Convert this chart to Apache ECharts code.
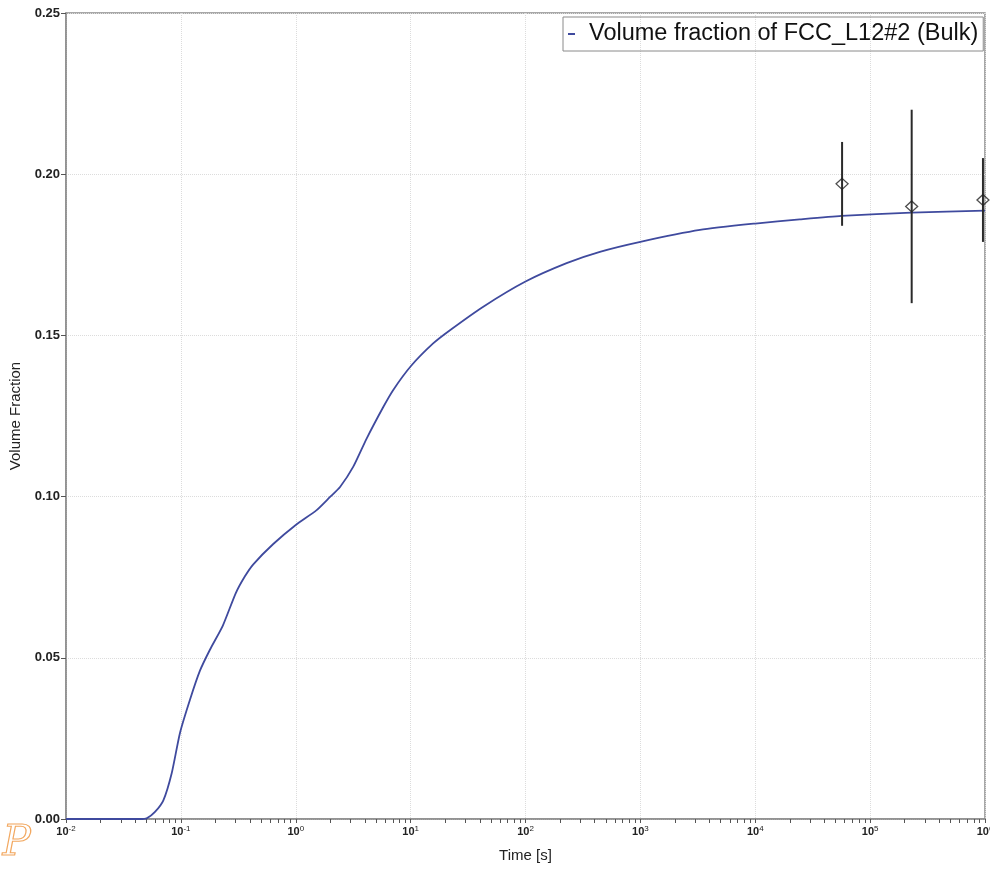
<!DOCTYPE html>
<html>
<head>
<meta charset="utf-8">
<title>Volume fraction of FCC_L12#2</title>
<script src="https://cdn.jsdelivr.net/npm/echarts@6/dist/echarts.min.js"></script>
<style>
  html, body { margin: 0; padding: 0; background: #fff; }
  #chart { width: 990px; height: 870px; }
</style>
</head>
<body>
<div id="chart"></div>
<script>
// Simulated precipitate volume fraction vs time (log time axis)
const timeSec = [
  0.01, 0.044, 0.0504, 0.0595, 0.0704, 0.0832, 0.0982, 0.120, 0.1466, 0.179,
  0.232, 0.300, 0.360, 0.427, 0.637, 1.0, 1.52, 1.99, 2.43, 3.16,
  4.14, 5.78, 7.06, 10.07, 15.7, 22.0, 42.9, 100, 228, 444,
  1000, 3300, 10000, 24400, 56400, 229000, 1000000
];
const volFraction = [
  0, 0, 0.0002, 0.0022, 0.0058, 0.0142, 0.0267, 0.0370, 0.0460, 0.0525,
  0.0600, 0.0700, 0.0752, 0.0790, 0.0853, 0.0912, 0.0958, 0.0999, 0.1030, 0.1092,
  0.1180, 0.1278, 0.1331, 0.1405, 0.1475, 0.1516, 0.1589, 0.1667, 0.1724, 0.1759,
  0.1790, 0.1827, 0.1847, 0.1860, 0.1871, 0.1881, 0.1887
];

// Experimental measurements with error bars
const expTime = [57000, 230000, 960000];
const expValue = [0.197, 0.190, 0.192];
const expLow = [0.184, 0.160, 0.179];
const expHigh = [0.210, 0.220, 0.205];

// Axis tick settings
const decadeExponents = [-2, -1, 0, 1, 2, 3, 4, 5];
const minorMultipliers = [2, 3, 4, 5, 6, 7, 8, 9];

const seriesName = 'Volume fraction of FCC_L12#2 (Bulk)';

const curveData = timeSec.map((t, i) => [t, volFraction[i]]);
const expPoints = expTime.map((t, i) => [t, expValue[i]]);
const errData = expTime.map((t, i) => [t, expLow[i], expHigh[i]]);
const minorTickPos = [];
decadeExponents.forEach(n => minorMultipliers.forEach(k => minorTickPos.push(n + Math.log10(k))));

const axisGray = '#8c8c8c';
const gridGray = '#dcdcdc';
const fontFam = 'Liberation Sans, Arial, sans-serif';

const chart = echarts.init(document.getElementById('chart'), null, { renderer: 'canvas' });

chart.setOption({
  animation: false,
  backgroundColor: '#fff',
  textStyle: { fontFamily: fontFam },
  grid: {
    left: 66, right: 5, top: 13, bottom: 51,
    outerBoundsMode: 'none',
    containLabel: false,
    show: true, borderColor: axisGray, borderWidth: 1.5, backgroundColor: 'transparent'
  },
  legend: {
    data: [seriesName],
    left: 563, top: 17,
    padding: [5, 5, 5, 5],
    borderColor: '#8a8a8a', borderWidth: 1,
    itemWidth: 7, itemHeight: 2,
    icon: 'rect',
    textStyle: { fontSize: 23.5, color: '#111', fontFamily: fontFam, padding: [0, 0, 0, 9] }
  },
  xAxis: [{
    type: 'log',
    logBase: 10,
    min: 0.01, max: 1000000,
    splitNumber: 8,
    name: 'Time [s]',
    nameLocation: 'middle',
    nameGap: 29,
    nameTextStyle: { fontSize: 15, color: '#222' },
    axisLine: { onZero: false, lineStyle: { color: axisGray, width: 1.5 } },
    axisTick: { show: true, length: 4, lineStyle: { color: '#555' } },
    axisLabel: {
      margin: 6,
      color: '#222',
      formatter: v => '{b|10}{s|' + Math.round(Math.log10(v)) + '}',
      rich: {
        b: { fontSize: 11, fontWeight: 'bold', color: '#222', fontFamily: fontFam },
        s: { fontSize: 8, color: '#222', verticalAlign: 'top', fontFamily: fontFam, padding: [0, 0, 5, 0] }
      }
    },
    splitLine: { show: true, lineStyle: { color: gridGray, type: 'dotted', width: 1 } }
  }, {
    // minor ticks at 2..9 within each decade
    type: 'value',
    min: -2, max: 6,
    position: 'bottom',
    axisLine: { show: false, onZero: false },
    axisLabel: { show: false },
    splitLine: { show: false },
    axisTick: { show: true, length: 4, customValues: minorTickPos, lineStyle: { color: '#555' } }
  }],
  yAxis: {
    type: 'value',
    min: 0, max: 0.25, interval: 0.05,
    name: 'Volume Fraction',
    nameLocation: 'middle',
    nameGap: 38,
    nameTextStyle: { fontSize: 15, color: '#222' },
    axisLine: { show: true, onZero: false, lineStyle: { color: axisGray, width: 1.5 } },
    axisTick: { show: true, length: 5, lineStyle: { color: '#555' } },
    axisLabel: {
      margin: 6, fontSize: 13, fontWeight: 'bold', color: '#222',
      formatter: v => v.toFixed(2)
    },
    splitLine: { show: true, lineStyle: { color: gridGray, type: 'dotted', width: 1 } }
  },
  series: [{
    name: seriesName,
    type: 'line',
    data: curveData,
    smooth: 0.2,
    showSymbol: false,
    lineStyle: { color: '#3f4a9e', width: 1.8 },
    itemStyle: { color: '#3f4a9e' },
    z: 3
  }, {
    name: 'errors',
    type: 'custom',
    data: errData,
    clip: true,
    renderItem: (params, api) => {
      const lo = api.coord([api.value(0), api.value(1)]);
      const hi = api.coord([api.value(0), api.value(2)]);
      return {
        type: 'line',
        shape: { x1: lo[0], y1: lo[1], x2: hi[0], y2: hi[1] },
        style: { stroke: '#2a2a2a', lineWidth: 2 }
      };
    },
    encode: { x: 0, y: [1, 2] },
    z: 4
  }, {
    name: 'measured',
    type: 'scatter',
    data: expPoints,
    symbol: 'diamond',
    symbolSize: [12, 11],
    clip: true,
    itemStyle: { color: 'rgba(255,255,255,0)', borderColor: '#222', borderWidth: 1.3 },
    z: 5
  }],
  graphic: [{
    type: 'text',
    left: 2, top: 822,
    style: {
      text: 'P',
      font: 'italic 42px "DejaVu Serif", serif',
      fill: 'rgba(0,0,0,0)',
      stroke: '#f2a860',
      lineWidth: 1.2
    }
  }]
});
</script>
</body>
</html>
